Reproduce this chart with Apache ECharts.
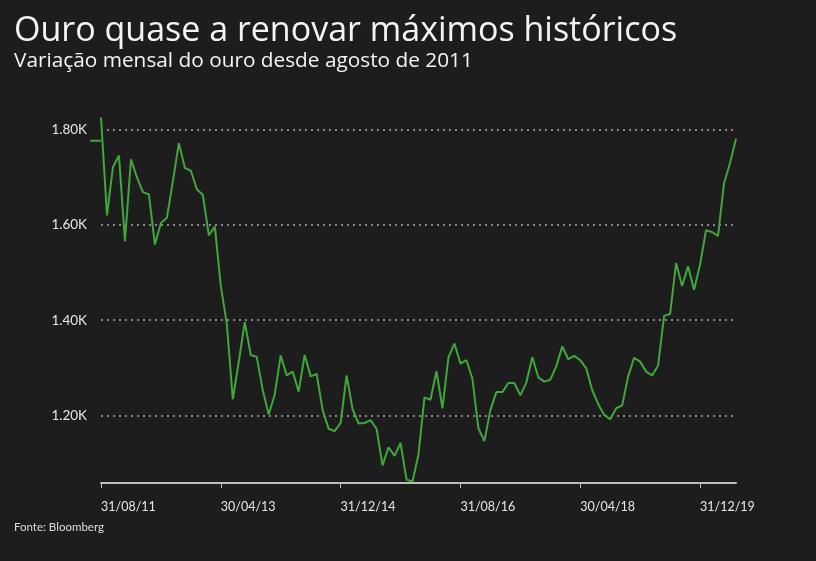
<!DOCTYPE html>
<html>
<head>
<meta charset="utf-8">
<script src="https://cdn.jsdelivr.net/npm/echarts@6/dist/echarts.min.js"></script>
<style>
html,body{margin:0;padding:0;background:#1d1d1d;}
#c{width:816px;height:561px;}
</style>
</head>
<body>
<div id="c"></div>
<script>
// Month-end gold price (USD/oz), Aug 2011 .. Jun 2020 (index 0 = 31/08/11)
const prices2011 = [1826, 1620, 1722, 1746, 1566];
const prices2012 = [1738, 1700, 1669, 1664, 1559, 1604, 1615, 1692, 1772, 1720, 1714, 1675];
const prices2013 = [1663, 1578, 1597, 1472, 1393, 1234, 1313, 1396, 1327, 1323, 1253, 1202];
const prices2014 = [1244, 1326, 1284, 1292, 1250, 1327, 1282, 1287, 1211, 1172, 1167, 1184];
const prices2015 = [1284, 1213, 1183, 1184, 1190, 1172, 1095, 1133, 1115, 1142, 1065, 1061];
const prices2016 = [1118, 1238, 1233, 1293, 1215, 1322, 1351, 1309, 1316, 1277, 1173, 1146];
const prices2017 = [1211, 1249, 1249, 1268, 1268, 1242, 1269, 1322, 1280, 1271, 1275, 1303];
const prices2018 = [1345, 1318, 1325, 1316, 1299, 1253, 1224, 1201, 1192, 1215, 1221, 1282];
const prices2019 = [1321, 1313, 1292, 1284, 1305, 1409, 1413, 1520, 1472, 1513, 1464, 1517];
const prices2020 = [1589, 1585, 1577, 1687, 1730, 1781];

const xTickIndex = [0, 20, 40, 60, 80, 100];
const xTickLabels = ['31/08/11', '30/04/13', '31/12/14', '31/08/16', '30/04/18', '31/12/19'];
const yTickValues = [1200, 1400, 1600, 1800];

const allPrices = [].concat(prices2011, prices2012, prices2013, prices2014, prices2015,
  prices2016, prices2017, prices2018, prices2019, prices2020);
const lineData = allPrices.map((v, i) => [i, v]);
const lastValue = allPrices[allPrices.length - 1];

const FONT = 'Lato';
const TFONT = 'Open Sans';
const chart = echarts.init(document.getElementById('c'));
chart.setOption({
  backgroundColor: '#1d1d1d',
  animation: false,
  title: [
    { text: 'Ouro quase a renovar máximos históricos', left: 14, top: 14, padding: 0,
      textStyle: { color: '#f4f4f4', fontFamily: TFONT, fontSize: 34, fontWeight: 'normal' } },
    { text: 'Variação mensal do ouro desde agosto de 2011', left: 14, top: 51, padding: 0,
      textStyle: { color: '#f4f4f4', fontFamily: TFONT, fontSize: 20.8, fontWeight: 'normal' } },
    { text: 'Fonte: Bloomberg', left: 14, top: 521, padding: 0,
      textStyle: { color: '#dddddd', fontFamily: FONT, fontSize: 11.5, fontWeight: 'normal' } }
  ],
  grid: { left: 101, right: 80, top: 106, bottom: 78 },
  xAxis: {
    type: 'value', min: 0, max: 106,
    axisLine: { show: true, lineStyle: { color: '#bdbdbd', width: 2 } },
    axisTick: { show: true, length: 5, customValues: xTickIndex, lineStyle: { color: '#bdbdbd', width: 1 } },
    axisLabel: {
      customValues: xTickIndex, align: 'left', margin: 17,
      color: '#e6e6e6', fontFamily: FONT, fontSize: 12.5,
      formatter: v => xTickLabels[xTickIndex.indexOf(v)] || ''
    },
    splitLine: { show: false }
  },
  yAxis: {
    type: 'value', min: 1058, max: 1850,
    axisLine: { show: false },
    axisTick: { show: false, customValues: yTickValues },
    axisLabel: {
      customValues: yTickValues, margin: 14,
      color: '#e6e6e6', fontFamily: FONT, fontSize: 13.5,
      formatter: v => (v / 1000).toFixed(2) + 'K'
    },
    splitLine: { show: true, lineStyle: { color: '#aaaaaa', type: [2, 4], width: 1.5 } }
  },
  series: [
    {
      type: 'line', data: lineData, showSymbol: false, clip: false,
      lineStyle: { color: '#3fa83a', width: 2 }
    },
    {
      type: 'custom', clip: false, silent: true,
      data: [[-1.8, lastValue - 4, 0]],
      renderItem: function (params, api) {
        const p0 = api.coord([api.value(0), api.value(1)]);
        const p1 = api.coord([api.value(2), api.value(1)]);
        return { type: 'line', shape: { x1: p0[0], y1: p0[1], x2: p1[0], y2: p1[1] },
          style: { stroke: '#3fa83a', lineWidth: 2 } };
      }
    }
  ]
});
</script>
</body>
</html>
